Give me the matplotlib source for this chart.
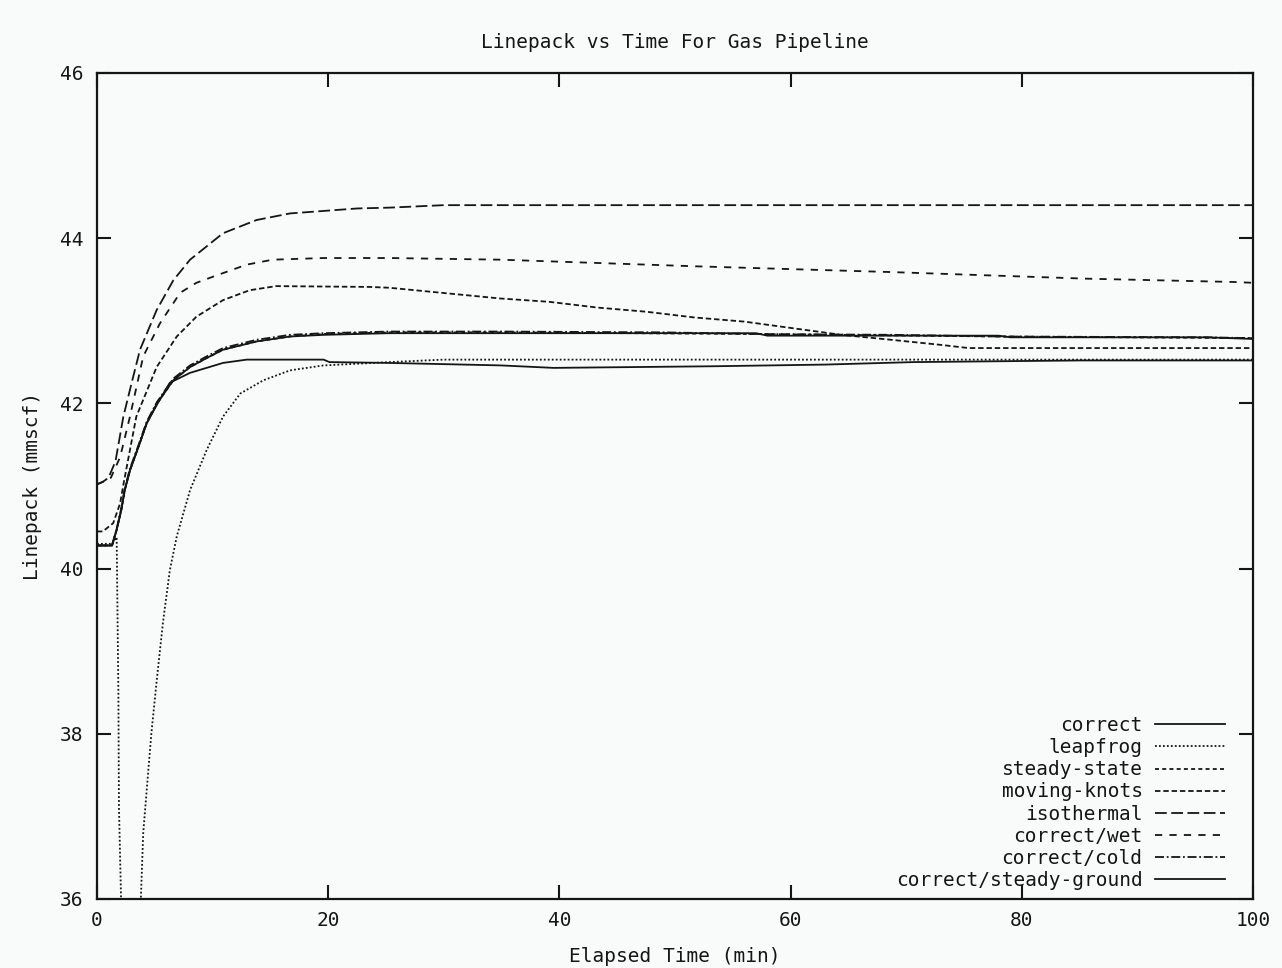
import matplotlib
matplotlib.use("Agg")
import matplotlib.pyplot as plt

# ---- data ----
t_correct = [0, 1.3, 1.7, 2.1, 2.4, 2.85, 3.6, 4.3, 5.2, 6.6, 8.05, 9.5, 10.9, 13.8, 16.7, 19.6, 25.3, 35, 57, 58, 78, 79, 96, 100]
v_correct = [40.28, 40.28, 40.47, 40.71, 40.95, 41.19, 41.48, 41.76, 42.0, 42.28, 42.44, 42.55, 42.65, 42.75, 42.81, 42.83, 42.85, 42.85, 42.85, 42.82, 42.82, 42.80, 42.80, 42.78]

t_leapfrog = [0, 1.3, 1.7, 1.85, 1.9, 2.1, 2.9, 3.75, 3.8, 4.0, 4.3, 4.7, 5.2, 5.7, 6.3, 6.9, 8.05, 9.5, 10.9, 12.4, 14.4, 16.7, 19.6, 25.3, 30, 100]
v_leapfrog = [40.30, 40.30, 40.38, 38.5, 37.1, 35.9, 30.0, 35.5, 36.03, 36.8, 37.32, 38.0, 38.69, 39.34, 39.98, 40.39, 40.95, 41.44, 41.84, 42.12, 42.28, 42.40, 42.46, 42.50, 42.53, 42.53]

t_steady = [0, 1.3, 1.7, 2.1, 2.4, 2.85, 3.6, 4.3, 5.2, 6.6, 8.05, 9.5, 10.9, 13.8, 16.7, 19.6, 25.3, 35, 57, 78, 100]
v_steady = [40.28, 40.28, 40.47, 40.71, 40.95, 41.19, 41.48, 41.76, 42.0, 42.28, 42.44, 42.55, 42.65, 42.75, 42.81, 42.84, 42.86, 42.86, 42.84, 42.81, 42.79]

t_knots = [0, 0.5, 1.4, 2.0, 2.3, 3.4, 5.16, 6.9, 8.6, 10.9, 13.2, 15.5, 23.6, 25.3, 34.9, 39.1, 43.3, 47.5, 51.7, 56, 60.2, 64.4, 68.7, 72.9, 75.4, 100]
v_knots = [40.45, 40.45, 40.55, 40.79, 41.03, 41.84, 42.44, 42.81, 43.05, 43.25, 43.37, 43.42, 43.41, 43.40, 43.27, 43.23, 43.16, 43.11, 43.04, 42.99, 42.91, 42.83, 42.77, 42.71, 42.67, 42.67]

t_iso = [0, 0.5, 1.0, 1.6, 2.28, 3.0, 3.72, 5.16, 6.6, 8.05, 10.9, 13.8, 16.7, 22.5, 25.3, 30, 100]
v_iso = [41.02, 41.05, 41.10, 41.30, 41.84, 42.25, 42.65, 43.13, 43.49, 43.74, 44.06, 44.22, 44.30, 44.36, 44.37, 44.40, 44.40]

t_wet = [0, 0.5, 1.2, 2.0, 2.85, 4.0, 5.45, 7.2, 8.6, 10.35, 12.95, 15.2, 19.6, 25.3, 34.9, 51.7, 68.7, 77.1, 85.6, 98.3, 100]
v_wet = [41.02, 41.05, 41.10, 41.35, 41.84, 42.57, 42.97, 43.34, 43.46, 43.55, 43.68, 43.74, 43.76, 43.76, 43.74, 43.66, 43.59, 43.55, 43.51, 43.47, 43.46]

t_cold = [0, 1.3, 1.7, 2.1, 2.4, 2.85, 3.6, 4.3, 5.2, 6.6, 8.05, 9.5, 10.9, 13.8, 16.7, 19.6, 25.3, 35, 49, 57, 69, 78, 96, 100]
v_cold = [40.28, 40.28, 40.48, 40.73, 40.97, 41.21, 41.50, 41.78, 42.02, 42.30, 42.46, 42.57, 42.67, 42.77, 42.83, 42.85, 42.87, 42.87, 42.86, 42.84, 42.83, 42.81, 42.80, 42.79]

t_ground = [0, 1.3, 1.7, 2.1, 2.4, 2.85, 3.6, 4.3, 5.2, 6.3, 8.05, 10.9, 12.95, 19.6, 20.1, 25.3, 34.9, 39.5, 53.5, 63, 70.6, 85.1, 100]
v_ground = [40.28, 40.28, 40.47, 40.71, 40.95, 41.19, 41.48, 41.76, 41.99, 42.25, 42.37, 42.49, 42.53, 42.53, 42.50, 42.49, 42.46, 42.43, 42.45, 42.47, 42.50, 42.52, 42.52]

labels = ["correct", "leapfrog", "steady-state", "moving-knots", "isothermal",
          "correct/wet", "correct/cold", "correct/steady-ground"]

title = "Linepack vs Time For Gas Pipeline"
xlabel = "Elapsed Time (min)"
ylabel = "Linepack (mmscf)"
xticks = [0, 20, 40, 60, 80, 100]
yticks = [36, 38, 40, 42, 44, 46]

# ---- figure ----
BG = "#f8fbf9"
INK = "#151515"
FS = 14
plt.rcParams["font.family"] = ["DejaVu Sans Mono"]
plt.rcParams["font.size"] = FS

fig = plt.figure(figsize=(12.82, 9.68), dpi=100, facecolor=BG)
ax = fig.add_axes([97 / 1282, 1 - 899 / 968, (1253 - 97) / 1282, (899 - 73) / 968])
ax.set_facecolor(BG)

lw = 1.3
series = [
    (t_correct, v_correct, dict(ls="-")),
    (t_leapfrog, v_leapfrog, dict(ls=(0, (1, 1.2)))),
    (t_steady, v_steady, dict(ls=(0, (2.2, 1.8)))),
    (t_knots, v_knots, dict(ls=(0, (3, 1.6)))),
    (t_iso, v_iso, dict(ls=(0, (6.5, 2.5)))),
    (t_wet, v_wet, dict(ls=(0, (4, 4)))),
    (t_cold, v_cold, dict(ls=(0, (5, 1.5, 1, 1.5)))),
    (t_ground, v_ground, dict(ls="-")),
]
for (t, v, st), lab in zip(series, labels):
    ax.plot(t, v, color=INK, lw=lw, label=lab, **st)

ax.set_xlim(0, 100)
ax.set_ylim(36, 46)
ax.set_xticks(xticks)
ax.set_yticks(yticks)
ax.tick_params(direction="in", length=10, width=1.5, top=True, right=True,
               colors=INK, labelsize=FS)
ax.tick_params(axis="y", pad=10)
ax.tick_params(axis="x", pad=9)
for s in ax.spines.values():
    s.set_linewidth(1.6)
    s.set_color(INK)

ax.set_title(title, fontsize=FS, color=INK, pad=18)
ax.set_xlabel(xlabel, fontsize=FS, color=INK, labelpad=12)
ax.set_ylabel(ylabel, fontsize=FS, color=INK, labelpad=13)

leg = ax.legend(loc="lower right", bbox_to_anchor=(0.976, 0.011), markerfirst=False,
                frameon=False, fontsize=FS, handlelength=3.6, handletextpad=0.65,
                labelspacing=0.16, borderpad=0, borderaxespad=0)
for txt in leg.get_texts():
    txt.set_color(INK)

fig.savefig("out.png", dpi=100, facecolor=BG)
